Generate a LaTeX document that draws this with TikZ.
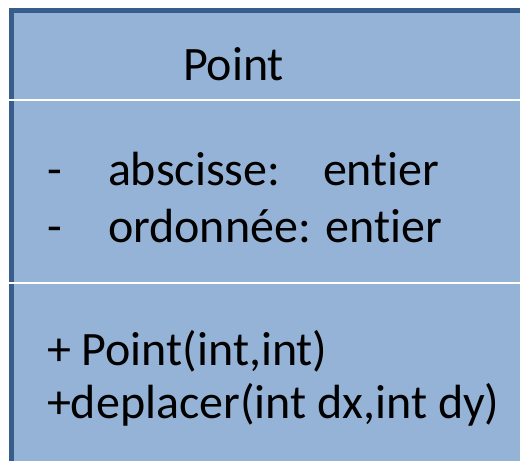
\documentclass[tikz,border=0pt]{standalone}
\usepackage{fontspec}
\setmainfont[Ligatures=NoCommon]{Carlito}
\definecolor{classfill}{HTML}{95B3D7}
\definecolor{classedge}{HTML}{385D8A}
\begin{document}
\begin{tikzpicture}[x=1pt,y=-1pt,
  umltext/.style={anchor=base west,inner sep=0pt,outer sep=0pt,font=\fontsize{48}{58}\selectfont,text=black},
  divider/.style={draw=white,line width=2.2pt}]
\useasboundingbox (0,0) rectangle (520,461);
\begin{scope}
\clip (0,0) rectangle (520,461);
% class box (its right and bottom edges lie outside the frame)
\draw[fill=classfill,draw=classedge,line width=5pt] (11.5,10.5) rectangle (540,480);
% compartment separators
\coordinate (d1l) at (9,100);
\coordinate (d1r) at (520,100);
\coordinate (d2l) at (9,283);
\coordinate (d2r) at (520,283);
\draw[divider] (d1l) -- (d1r);
\draw[divider] (d2l) -- (d2r);
\end{scope}
% class name
\node[umltext] (name) at (183,80) {Point};
% attributes
\node[umltext] (b1) at (47,185) {-};
\node[umltext] (a1) at (108,185) {abscisse:};
\node[umltext] (t1) at (323,185) {entier};
\node[umltext] (b2) at (47,242) {-};
\node[umltext] (a2) at (108,242) {ordonnée: entier};
% operations
\node[umltext] (o1) at (47,365) {+ Point(int,int)};
\node[umltext] (o2) at (47,418) {+deplacer(int dx,int dy)};
\end{tikzpicture}
\end{document}
